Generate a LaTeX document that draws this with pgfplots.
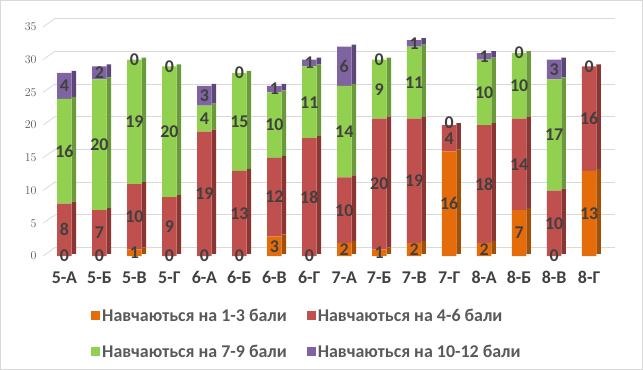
\documentclass[border=0pt]{standalone}
\usepackage{pgfplots}
\usepackage{pgfplotstable}
\pgfplotsset{compat=1.18}
\usepackage{fontspec}
\setmainfont{Carlito}
\definecolor{cO}{HTML}{E46C0A}
\definecolor{cR}{HTML}{C0504D}
\definecolor{cG}{HTML}{92D050}
\definecolor{cP}{HTML}{8064A2}
\definecolor{cOd}{HTML}{A34F08}
\definecolor{cRd}{HTML}{8C3634}
\definecolor{cGd}{HTML}{6A9A3A}
\definecolor{cPd}{HTML}{5C4878}
\definecolor{tickc}{HTML}{595959}
\definecolor{lblc}{HTML}{404040}
\definecolor{gridc}{HTML}{D9D9D9}

\pgfplotstableread{
x o r g p
0 0 8 16 4
1 0 7 20 2
2 1 10 19 0
3 0 9 20 0
4 0 19 4 3
5 0 13 15 0
6 3 12 10 1
7 0 18 11 1
8 2 10 14 6
9 1 20 9 0
10 2 19 11 1
11 16 4 0 0
12 2 18 10 1
13 7 14 10 0
14 0 10 17 3
15 13 16 0 0
}\data

\pgfplotstableread{
x y l
0 0 0
0 4 8
0 16 16
0 26 4
1 0 0
1 3.5 7
1 17 20
1 28 2
2 0.5 1
2 6 10
2 20.5 19
2 30 0
3 0 0
3 4.5 9
3 19 20
3 29 0
4 0 0
4 9.5 19
4 21 4
4 24.5 3
5 0 0
5 6.5 13
5 20.5 15
5 28 0
6 1.5 3
6 9 12
6 20 10
6 25.5 1
7 0 0
7 9 18
7 23.5 11
7 29.5 1
8 1 2
8 7 10
8 19 14
8 29 6
9 0.5 1
9 11 20
9 25.5 9
9 30 0
10 1 2
10 11.5 19
10 26.5 11
10 32.5 1
11 8 16
11 18 4
11 20.3 0
12 1 2
12 11 18
12 25 10
12 30.5 1
13 3.5 7
13 14 14
13 26 10
13 31 0
14 0 0
14 5 10
14 18.5 17
14 28.5 3
15 6.5 13
15 21 16
15 29 0
}\labels

\pgfplotsset{base/.style={scale only axis, width=575bp, height=229bp,
  xmin=-0.70, xmax=15.74, ymin=0, ymax=35, anchor=south west,
  axis line style={draw=none}, tick style={draw=none}, clip=false}}

\begin{document}
\begin{tikzpicture}
\useasboundingbox (0,0) rectangle (643bp,370bp);
\draw[gridc] (0.5bp,0.5bp) rectangle (642.5bp,369.5bp);
% back grid
\begin{axis}[scale only axis, width=560bp, height=229bp, at={(55bp,122.5bp)}, anchor=south west,
  xmin=0, xmax=1, ymin=0, ymax=35, ytick={0,5,...,35}, xtick=\empty, yticklabels={},
  ymajorgrids, major grid style={draw=gridc, line width=0.8pt},
  axis line style={draw=none}, tick style={draw=none}]
\end{axis}
\foreach \v in {0,...,7} \draw[gridc, line width=0.8pt] (43bp,{114bp+\v*229bp/7}) -- (55bp,{122.5bp+\v*229bp/7});
% side faces
\begin{axis}[base, at={(40bp,116bp)}, ybar stacked, bar width=4.5bp, bar shift=9.5bp, xtick=\empty, ytick=\empty]
\addplot[fill=cOd, draw=none] table[x=x,y=o]{\data};
\addplot[fill=cRd, draw=none] table[x=x,y=r]{\data};
\addplot[fill=cGd, draw=none] table[x=x,y=g]{\data};
\addplot[fill=cPd, draw=none] table[x=x,y=p]{\data};
\end{axis}
% front bars
\begin{axis}[base, at={(40bp,114bp)}, ybar stacked, bar width=14.5bp,
  ytick={0,5,...,35}, yticklabel style={font=\fontsize{12}{14}\selectfont, text=tickc},
  xtick={0,...,15},
  xticklabels={5-А,5-Б,5-В,5-Г,6-А,6-Б,6-В,6-Г,7-А,7-Б,7-В,7-Г,8-А,8-Б,8-В,8-Г},
  xticklabel style={font=\fontsize{18}{20}\selectfont\bfseries, text=lblc, yshift=-12bp},
  legend columns=2, legend cell align=left,
  legend style={at={(0.0835,-0.213)}, anchor=north west, draw=none, fill=none,
    font=\fontsize{18}{20}\selectfont\bfseries, text=tickc, row sep=18bp,
    /tikz/every even column/.append style={column sep=18bp}},
  legend image code/.code={\fill[#1] (0bp,-4.5bp) rectangle (9bp,4.5bp);}]
\addplot[fill=cO, draw=none] table[x=x,y=o]{\data};
\addplot[fill=cR, draw=none] table[x=x,y=r]{\data};
\addplot[fill=cG, draw=none] table[x=x,y=g]{\data};
\addplot[fill=cP, draw=none] table[x=x,y=p]{\data};
\legend{Навчаються на 1-3 бали, Навчаються на 4-6 бали, Навчаються на 7-9 бали, Навчаються на 10-12 бали}
\end{axis}
% value labels
\begin{axis}[base, at={(40bp,114bp)}, hide axis]
\addplot[only marks, mark=none, nodes near coords, point meta=explicit symbolic,
  nodes near coords style={anchor=center, inner sep=0pt, font=\fontsize{18}{20}\selectfont\bfseries, text=lblc}]
  table[x=x,y=y,meta=l]{\labels};
\end{axis}
\end{tikzpicture}
\end{document}
